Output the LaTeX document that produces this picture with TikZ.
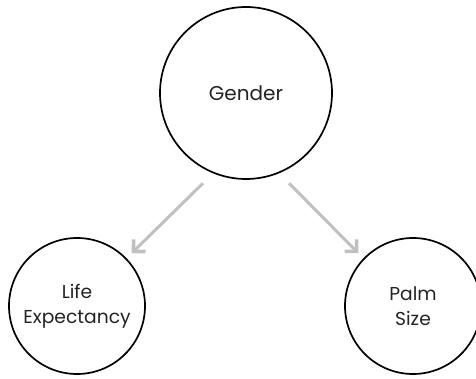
\documentclass[tikz,border=0pt]{standalone}
\usepackage{fontspec}
\setmainfont{Poppins}
\usetikzlibrary{arrows.meta,calc}
\definecolor{arrowgray}{RGB}{192,192,192}
\definecolor{inkgray}{RGB}{35,35,35}
\begin{document}
\begin{tikzpicture}[x=1pt,y=1pt,
  var/.style={circle,draw=black,line width=1.7pt,inner sep=0pt,
    text=inkgray,font=\fontsize{18.7}{25}\selectfont,align=center},
  big/.style={var,minimum size=172pt,font=\fontsize{20}{25}\selectfont},
  small/.style={var,minimum size=136pt},
  link/.style={draw=arrowgray,line width=3pt,
    -{Straight Barb[length=8.5pt,width=17pt,line width=3.6pt,sharp]}}]
\useasboundingbox (0,0) rectangle (476,378);
\node[big]   (g) at (246,285) {Gender};
\node[small] (l) at (77,72)   {Life\\Expectancy};
\node[small] (p) at (413,72)  {Palm\\Size};
\draw[link] ($(g.center)+(244.5:100)$) -- ($(l.center)+(44:76)$);
\draw[link] ($(g.center)+(295.5:100)$) -- ($(p.center)+(136:76)$);
\end{tikzpicture}
\end{document}
